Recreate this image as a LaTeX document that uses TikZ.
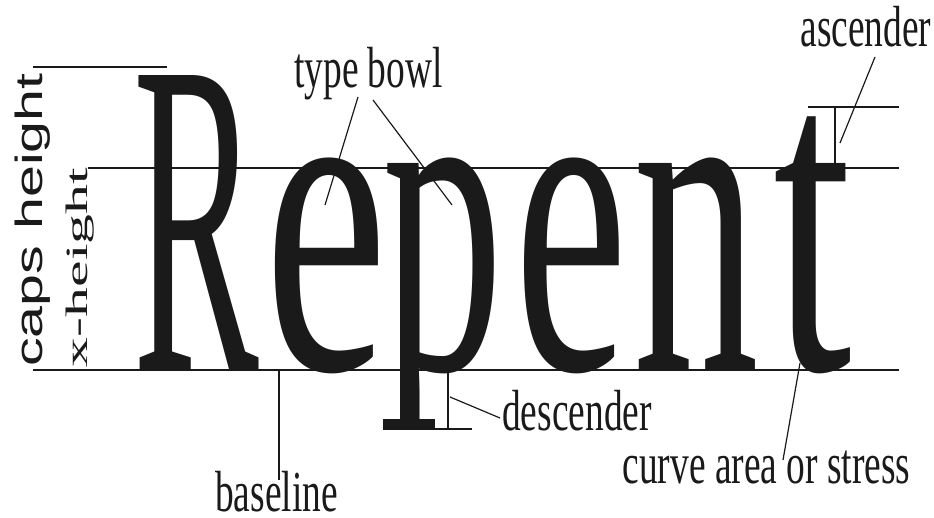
\documentclass[tikz,border=0pt]{standalone}
\usepackage{fontspec}
\newfontfamily\bigfont{Liberation Serif}
\newfontfamily\labfont[FakeStretch=0.645]{Liberation Serif}
\newfontfamily\capsfont[FakeStretch=1.51]{Liberation Sans}
\newfontfamily\xhfont[FakeStretch=1.93]{Liberation Serif}
\definecolor{ink}{HTML}{1A1A1A}
\tikzset{
  letter/.style={inner sep=0pt, outer sep=0pt, anchor=base, text=ink, font=\bigfont\fontsize{449}{449}\selectfont},
  lab/.style={inner sep=0pt, outer sep=0pt, anchor=base, text=ink, font=\labfont\fontsize{58}{58}\selectfont},
  guide/.style={draw=ink, line width=1.8pt},
  leader/.style={draw=ink, line width=1.2pt}
}
\begin{document}
\begin{tikzpicture}[x=1pt,y=1pt]
\useasboundingbox[fill=white] (0,0) rectangle (934,-518);
% big letters
\node[letter] (R) at (196,-370) {\scalebox{0.42}[1]{R}};
\node[letter] (e1) at (326,-370) {\scalebox{0.62}[1]{e}};
\begin{scope}
  \clip (370,-100) rectangle (520,-421);
  \node[letter] (p) at (443,-370) {\scalebox{0.54}[1]{p}};
\end{scope}
\fill[ink] (383,-419) rectangle (435,-430);
\node[letter] (e2) at (571,-370) {\scalebox{0.57}[1]{e}};
\node[letter] (n) at (696,-370) {\scalebox{0.56}[1]{n}};
\node[letter] (t) at (813,-370) {\scalebox{0.63}[1]{t}};
% guide lines
\coordinate (capL) at (33,-67);   \coordinate (capR) at (167,-67);
\coordinate (xL) at (88,-168);    \coordinate (xR) at (899,-168);
\coordinate (bL) at (33,-370);    \coordinate (bR) at (899,-370);
\coordinate (aL) at (808,-107);   \coordinate (aR) at (899,-107);
\draw[guide] (capL) -- (capR);
\draw[guide] (xL) -- (xR);
\draw[guide] (bL) -- (bR);
\draw[guide] (aL) -- (aR);
% ascender tick
\coordinate (atT) at (835,-107); \coordinate (atB) at (835,-165);
\draw[leader] (atT) -- (atB);
% descender marks
\coordinate (dL) at (383,-429); \coordinate (dR) at (472,-429);
\coordinate (dtT) at (448,-370); \coordinate (dtB) at (448,-429);
\draw[leader] (dL) -- (dR);
\draw[leader] (dtT) -- (dtB);
% rotated labels
\node[inner sep=0pt, anchor=base, rotate=90, text=ink, font=\capsfont\fontsize{38}{38}\selectfont] (caps) at (42,-220) {caps height};
\node[inner sep=0pt, anchor=base, rotate=90, text=ink, font=\xhfont\fontsize{31}{31}\selectfont] (xh) at (87,-267.5) {x-height};
% labels
\node[lab] (bowl) at (368.5,-88) {type bowl};
\node[lab] (asc) at (866,-47) {ascender};
\node[lab] (desc) at (577,-430) {descender};
\node[lab] (curve) at (766.5,-483) {curve area or stress};
\node[lab] (base) at (276.5,-511) {baseline};
% leaders
\coordinate (b1s) at (358,-97);  \coordinate (b1e) at (325,-205);
\coordinate (b2s) at (373,-100); \coordinate (b2e) at (452,-205);
\coordinate (as) at (875,-57);   \coordinate (ae) at (840,-143);
\coordinate (ds) at (500,-418);  \coordinate (de) at (450,-397);
\coordinate (cs) at (783,-460);  \coordinate (ce) at (800,-363);
\coordinate (bs) at (279,-480);  \coordinate (be) at (279,-370);
\draw[leader] (b1s) -- (b1e);
\draw[leader] (b2s) -- (b2e);
\draw[leader] (as) -- (ae);
\draw[leader] (ds) -- (de);
\draw[leader] (cs) -- (ce);
\draw[leader] (bs) -- (be);
\end{tikzpicture}
\end{document}
